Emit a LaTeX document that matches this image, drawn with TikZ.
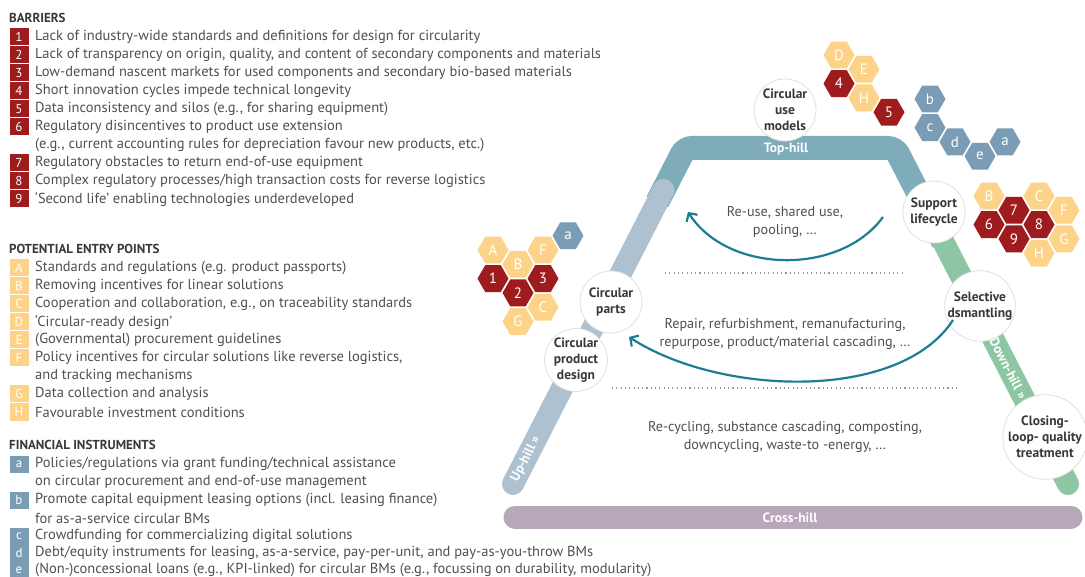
\documentclass[tikz,border=0pt]{standalone}
\usepackage{fontspec}
\setmainfont{PT Sans}
\usetikzlibrary{shapes.geometric,arrows.meta,calc}
\definecolor{bred}{HTML}{9E1B1E}
\definecolor{byel}{HTML}{FDD38A}
\definecolor{bblue}{HTML}{7A9DB5}
\definecolor{upc}{HTML}{AEC1D1}
\definecolor{topc}{HTML}{7EACB9}
\definecolor{downc}{HTML}{8DC6A2}
\definecolor{crossc}{HTML}{B8A7BA}
\definecolor{arrc}{HTML}{1C7F8F}
\definecolor{txt}{HTML}{505050}
\definecolor{headc}{HTML}{383838}
\begin{document}
\begin{tikzpicture}[x=1pt,y=-1pt,
  hex/.style={regular polygon, regular polygon sides=6, minimum size=31pt, inner sep=0pt, text=white, font=\fontsize{15}{15}\selectfont},
  hr/.style={hex, fill=bred}, hy/.style={hex, fill=byel}, hb/.style={hex, fill=bblue},
  badge/.style={minimum width=19pt, minimum height=17pt, inner sep=0pt, text=white, font=\fontsize{13}{13}\selectfont},
  rb/.style={badge, fill=bred}, yb/.style={badge, fill=byel}, bb/.style={badge, fill=bblue},
  item/.style={anchor=west, inner sep=0pt, text=txt, font=\fontsize{14.5}{18}\selectfont},
  headtxt/.style={anchor=west, inner sep=0pt, text=headc, font=\bfseries\fontsize{13}{14}\selectfont},
  circ/.style={circle, fill=white, draw=black!12, line width=0.8pt, minimum size=62pt, inner sep=0pt, align=center, text=headc, font=\bfseries\fontsize{13.5}{16}\selectfont},
  midtxt/.style={align=center, inner sep=0pt, text=txt, font=\fontsize{14.2}{17.5}\selectfont},
  hilltxt/.style={inner sep=0pt, text=white, font=\bfseries\fontsize{13.5}{14}\selectfont},
  dots/.style={black!40, line width=1.1pt, dash pattern=on 1.1pt off 3.2pt},
  arr/.style={arrc, line width=2.2pt, -{Straight Barb[length=6pt,width=13pt]}}
]
\fill[white] (0,0) rectangle (1085,577);
\useasboundingbox (0,0) rectangle (1085,577);

% ---------- left panel ----------
\node[headtxt] (hbar) at (9,18) {BARRIERS};
\foreach \n/\y/\t in {1/37/{Lack of industry-wide standards and definitions for design for circularity},
 2/55/{Lack of transparency on origin, quality, and content of secondary components and materials},
 3/73/{Low-demand nascent markets for used components and secondary bio-based materials},
 4/91/{Short innovation cycles impede technical longevity},
 5/109/{Data inconsistency and silos (e.g., for sharing equipment)},
 6/127/{Regulatory disincentives to product use extension},
 7/163/{Regulatory obstacles to return end-of-use equipment},
 8/181/{Complex regulatory processes/high transaction costs for reverse logistics},
 9/199/{‘Second life’ enabling technologies underdeveloped}}
 {\node[rb] (rb\n) at (19,\y) {\n}; \node[item] (rt\n) at (35,\y) {\t};}
\node[item] (rt6b) at (35,145) {(e.g., current accounting rules for depreciation favour new products, etc.)};

\node[headtxt] (hpot) at (9,249) {POTENTIAL ENTRY POINTS};
\foreach \n/\y/\t in {A/268/{Standards and regulations (e.g. product passports)},
 B/286/{Removing incentives for linear solutions},
 C/304/{Cooperation and collaboration, e.g., on traceability standards},
 D/322/{‘Circular-ready design’},
 E/340/{(Governmental) procurement guidelines},
 F/358/{Policy incentives for circular solutions like reverse logistics,},
 G/394/{Data collection and analysis},
 H/412/{Favourable investment conditions}}
 {\node[yb] (yb\n) at (19,\y) {\n}; \node[item] (yt\n) at (35,\y) {\t};}
\node[item] (ytFb) at (35,376) {and tracking mechanisms};

\node[headtxt] (hfin) at (9,445) {FINANCIAL INSTRUMENTS};
\foreach \n/\y/\t in {a/464/{Policies/regulations via grant funding/technical assistance},
 b/500/{Promote capital equipment leasing options (incl. leasing finance)},
 c/536/{Crowdfunding for commercializing digital solutions},
 d/553/{Debt/equity instruments for leasing, as-a-service, pay-per-unit, and pay-as-you-throw BMs},
 e/570/{(Non-)concessional loans (e.g., KPI-linked) for circular BMs (e.g., focussing on durability, modularity)}}
 {\node[bb] (bb\n) at (19,\y) {\n}; \node[item] (bt\n) at (35,\y) {\t};}
\node[item] (bta2) at (35,482) {on circular procurement and end-of-use management};
\node[item] (btb2) at (35,518) {for as-a-service circular BMs};

% ---------- hill ----------
\coordinate (ub) at (513,484);
\coordinate (tl) at (685,148);
\coordinate (tr) at (895,148);
\coordinate (db) at (1068,484);
\coordinate (ta) at ($(ub)!0.84!(tl)$);
\coordinate (tb) at ($(tr)!0.28!(db)$);
\coordinate (ue) at ($(ub)!0.875!(tl)$);
\coordinate (ds) at ($(tr)!0.2!(db)$);
\draw[topc, line width=24pt, rounded corners=7pt] (ta) -- (tl) -- (tr) -- (tb);
\draw[upc, line width=22pt, line cap=round] (ub) -- (ue);
\draw[downc, line width=22pt, line cap=round] (ds) -- (db);
\draw[crossc, line width=23pt, line cap=round] (515,517) coordinate (ca) -- (1071,517) coordinate (cb);

\node[hilltxt] (lup) at ($(ub)!0.075!(tl)$) [rotate=63] {Up-hill »};
\node[hilltxt] (ldown) at ($(tr)!0.655!(db)$) [rotate=-63] {Down-hill »};
\node[hilltxt] (ltop) at (786,149) {Top-hill};
\node[hilltxt] (lcross) at (790,518) {Cross-hill};

% ---------- middle texts ----------
\node[midtxt] (t1) at (785,222) {Re-use, shared use,\\pooling, …};
\node[midtxt] (t2) at (785,334) {Repair, refurbishment, remanufacturing,\\repurpose, product/material cascading, …};
\node[midtxt] (t3) at (785,437) {Re-cycling, substance cascading, composting,\\downcycling, waste-to -energy, …};
\coordinate (d1a) at (665,273); \coordinate (d1b) at (905,273);
\coordinate (d2a) at (612,388); \coordinate (d2b) at (960,388);
\draw[dots] (d1a) -- (d1b);
\draw[dots] (d2a) -- (d2b);

% ---------- circles ----------
\node[circ] (cp) at (611,302) {Circular\\parts};
\node[circ] (cpd) at (576,360) {Circular\\product\\design};
\node[circ] (cum) at (785,110) {Circular\\use\\models};
\node[circ] (sl) at (934,212) {Support\\lifecycle};
\node[circ] (sd) at (980,306) {Selective\\dsmantling};
\node[circ] (clq) at (1045,437) {Closing-\\loop- quality\\treatment};

% ---------- arrows ----------
\coordinate (a1s) at (883,217); \coordinate (a1e) at (688,212);
\coordinate (a2s) at (953,320); \coordinate (a2e) at (629,337);
\draw[arr] (a1s) .. controls (840,276) and (728,274) .. (a1e);
\draw[arr] (a2s) .. controls (900,402) and (720,396) .. (a2e);

% ---------- hexagon clusters ----------
\node[hy] (h1A) at (493,250) {A};
\node[hr] (h11) at (493,278.6) {1};
\node[hy] (h1B) at (518,264.3) {B};
\node[hr] (h12) at (518,292.9) {2};
\node[hy] (h1G) at (518,321.5) {G};
\node[hy] (h1F) at (543,250) {F};
\node[hr] (h13) at (543,278.6) {3};
\node[hy] (h1C) at (543,307.2) {C};
\node[hb] (h1a) at (568,235.7) {a};

\node[hy] (h2D) at (839,55) {D};
\node[hr] (h24) at (839,83.6) {4};
\node[hy] (h2E) at (864,69.3) {E};
\node[hy] (h2H) at (864,97.9) {H};
\node[hr] (h25) at (889,112.2) {5};

\node[hb] (h3b) at (930,99) {b};
\node[hb] (h3c) at (930,127.6) {c};
\node[hb] (h3d) at (955,141.9) {d};
\node[hb] (h3e) at (980,156.2) {e};
\node[hb] (h3a) at (1005,141.9) {a};

\node[hy] (h4B) at (989,196) {B};
\node[hr] (h46) at (989,224.6) {6};
\node[hr] (h47) at (1014,210.3) {7};
\node[hr] (h49) at (1014,238.9) {9};
\node[hy] (h4C) at (1039,196) {C};
\node[hr] (h48) at (1039,224.6) {8};
\node[hy] (h4H) at (1039,253.2) {H};
\node[hy] (h4F) at (1064,210.3) {F};
\node[hy] (h4G) at (1064,238.9) {G};
\end{tikzpicture}
\end{document}
